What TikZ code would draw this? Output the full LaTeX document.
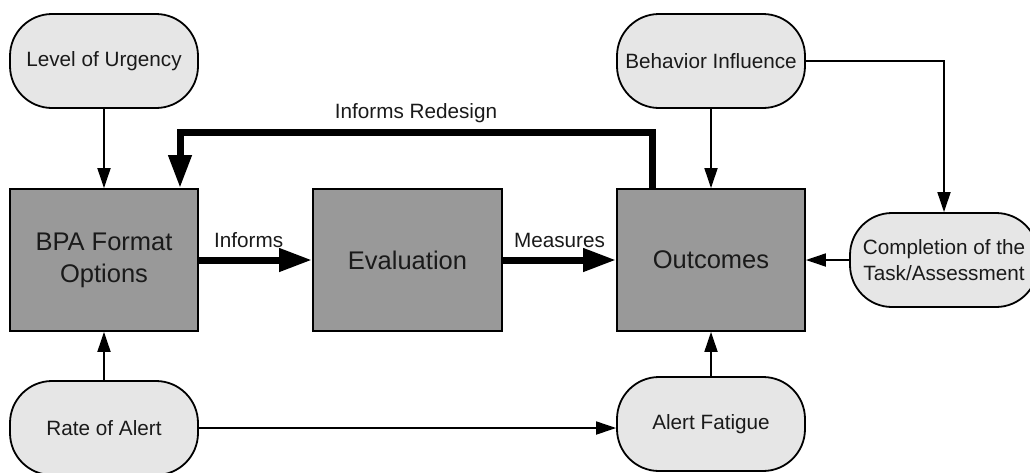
\documentclass[tikz,border=0pt]{standalone}
\usepackage{fontspec}
\setmainfont{Liberation Sans}
\usetikzlibrary{arrows.meta}
\definecolor{pillfill}{HTML}{E6E6E6}
\definecolor{boxfill}{HTML}{999999}
\definecolor{txt}{HTML}{1A1A1A}
\begin{document}
\begin{tikzpicture}[x=1pt,y=-1pt,
 pill/.style={draw=black, line width=1.8pt, fill=pillfill, rounded corners=42pt, minimum width=188pt, minimum height=94pt, inner sep=0pt, align=center, text=txt, font=\fontsize{20.7}{26}\selectfont},
 box/.style={draw=black, line width=1.8pt, fill=boxfill, minimum width=188pt, minimum height=142pt, inner sep=0pt, align=center, text=txt, font=\fontsize{25.5}{32}\selectfont},
 thinarrow/.style={line width=1.8pt, -{Triangle[length=20pt,width=13pt]}},
 thickarrow/.style={line width=7pt, -{Triangle[length=33pt,width=22pt]}},
 lbl/.style={font=\fontsize{20.7}{26}\selectfont, text=txt, inner sep=0pt, anchor=base}]
\useasboundingbox (0,0) rectangle (1030,472);
\fill[white] (0,0) rectangle (1030,472);
% nodes
\node[pill] (lou) at (104,61) {Level of Urgency};
\node[box] (bpa) at (104,260) {BPA Format\\Options};
\node[box, minimum width=189pt] (eval) at (407.5,260) {Evaluation};
\node[box] (out) at (711,260) {Outcomes};
\node[pill] (bi) at (711,61) {Behavior Influence};
\node[pill] (comp) at (944,260) {Completion of the\\Task/Assessment};
\node[pill] (af) at (711,424) {Alert Fatigue};
\node[pill] (roa) at (104,428) {Rate of Alert};
\coordinate (r1) at (652,132);
\coordinate (r2) at (180,132);
% thin connectors
\draw[thinarrow] (lou) -- (bpa);
\draw[thinarrow] (roa) -- (bpa);
\draw[thinarrow] (roa.east) -- (roa.east -| af.west);
\draw[thinarrow] (af) -- (out);
\draw[thinarrow] (bi) -- (out);
\draw[thinarrow] (bi.east) -| (comp.north);
\draw[thinarrow] (comp.west) -- (out.east);
% thick connectors
\draw[thickarrow] (bpa.east) -- node[lbl, pos=0.44, yshift=13pt] {Informs} (eval.west);
\draw[thickarrow] (eval.east) -- node[lbl, pos=0.5, yshift=13pt] {Measures} (out.west);
\draw[thickarrow] (out.north -| r1) -- (r1) -- node[lbl, pos=0.5, yshift=14pt] {Informs Redesign} (r2) -- (bpa.north -| r2);
\end{tikzpicture}
\end{document}
